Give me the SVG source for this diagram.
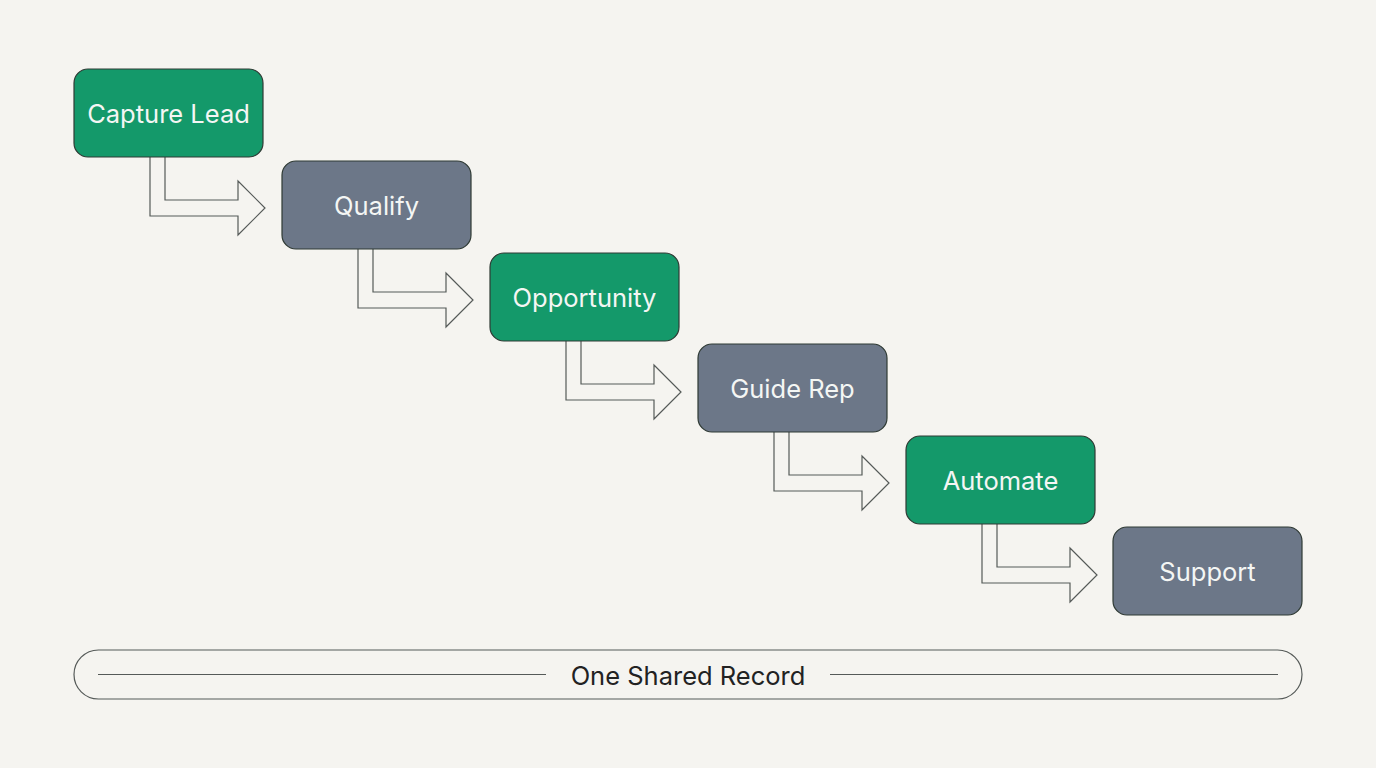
<svg xmlns="http://www.w3.org/2000/svg" width="1376" height="768" viewBox="0 0 1376 768">
<style>
.n rect{stroke:#2f3a34;stroke-width:1.2}
.g rect{fill:#14996a}
.s rect{fill:#6c7788}
.n text{font-family:Inter,"Noto Sans",sans-serif;font-size:25.5px;fill:#f4f6f4;text-anchor:middle;dominant-baseline:central}
.c use{fill:#f5f4f0;stroke:#555a58;stroke-width:1.2}
</style>
<rect width="1376" height="768" fill="#f5f4f0"/>
<defs>
<path id="ar" d="M150,157 V216 H238 V235 L265,208 L238,181 V200 H165 V157"/>
</defs>
<g class="c" id="connectors">
<use href="#ar"/>
<use href="#ar" transform="translate(208,92)"/>
<use href="#ar" transform="translate(416,184)"/>
<use href="#ar" transform="translate(624,275)"/>
<use href="#ar" transform="translate(832,367)"/>
</g>
<g class="n g" id="n1"><rect x="74" y="69" width="189" height="88" rx="14"/><text x="168.5" y="113">Capture Lead</text></g>
<g class="n s" id="n2"><rect x="282" y="161" width="189" height="88" rx="14"/><text x="376.5" y="205">Qualify</text></g>
<g class="n g" id="n3"><rect x="490" y="253" width="189" height="88" rx="14"/><text x="584.5" y="297">Opportunity</text></g>
<g class="n s" id="n4"><rect x="698" y="344" width="189" height="88" rx="14"/><text x="792.5" y="388">Guide Rep</text></g>
<g class="n g" id="n5"><rect x="906" y="436" width="189" height="88" rx="14"/><text x="1000.5" y="480">Automate</text></g>
<g class="n s" id="n6"><rect x="1113" y="527" width="189" height="88" rx="14"/><text x="1207.5" y="571">Support</text></g>
<g id="record">
<rect x="74" y="650" width="1228" height="49" rx="24.5" fill="none" stroke="#555a58" stroke-width="1.2"/>
<line x1="98" y1="674.5" x2="546" y2="674.5" stroke="#555a58" stroke-width="1.2"/>
<line x1="830" y1="674.5" x2="1278" y2="674.5" stroke="#555a58" stroke-width="1.2"/>
<text x="688" y="675" font-family="Inter,'Noto Sans',sans-serif" font-size="25.5" fill="#222" text-anchor="middle" dominant-baseline="central">One Shared Record</text>
</g>
</svg>
